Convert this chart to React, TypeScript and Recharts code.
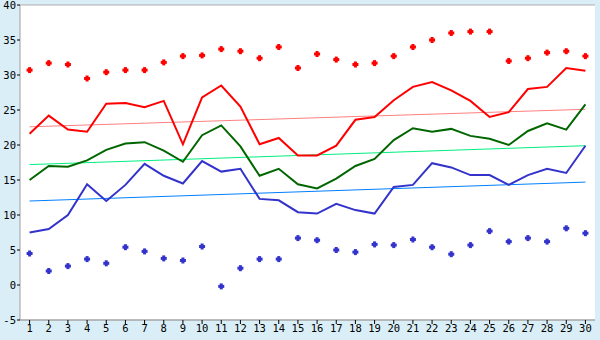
import { ComposedChart, Line, XAxis, YAxis, CartesianGrid } from 'recharts';

const days = ['1', '2', '3', '4', '5', '6', '7', '8', '9', '10', '11', '12', '13', '14', '15', '16', '17', '18', '19', '20', '21', '22', '23', '24', '25', '26', '27', '28', '29', '30'];

const highAvg = [21.6, 24.2, 22.2, 21.9, 25.9, 26.0, 25.4, 26.3, 20.1, 26.8, 28.5, 25.5, 20.1, 21.0, 18.5, 18.5, 19.9, 23.6, 24.0, 26.4, 28.3, 29.0, 27.8, 26.3, 24.0, 24.7, 28.0, 28.3, 31.0, 30.6];
const meanAvg = [15.0, 17.0, 16.9, 17.8, 19.3, 20.2, 20.4, 19.2, 17.6, 21.4, 22.8, 19.8, 15.6, 16.6, 14.4, 13.8, 15.2, 17.0, 18.0, 20.7, 22.4, 21.9, 22.3, 21.3, 20.9, 20.0, 22.0, 23.1, 22.2, 25.8];
const lowAvg = [7.5, 8.0, 10.0, 14.4, 12.0, 14.3, 17.3, 15.6, 14.5, 17.7, 16.2, 16.6, 12.3, 12.1, 10.4, 10.2, 11.6, 10.7, 10.2, 14.0, 14.3, 17.4, 16.8, 15.7, 15.7, 14.3, 15.7, 16.6, 16.0, 19.9];
const recordHigh = [30.7, 31.7, 31.5, 29.5, 30.4, 30.7, 30.7, 31.8, 32.7, 32.8, 33.7, 33.4, 32.4, 34.0, 31.0, 33.0, 32.2, 31.5, 31.7, 32.7, 34.0, 35.0, 36.0, 36.2, 36.2, 32.0, 32.4, 33.2, 33.4, 32.7];
const recordLow = [4.5, 2.0, 2.7, 3.7, 3.1, 5.4, 4.8, 3.8, 3.5, 5.5, -0.2, 2.4, 3.7, 3.7, 6.7, 6.4, 5.0, 4.7, 5.8, 5.7, 6.5, 5.4, 4.4, 5.7, 7.7, 6.2, 6.7, 6.2, 8.1, 7.4];

// trend line end points (first day, last day)
const highTrend = [22.6, 25.1];
const meanTrend = [17.2, 19.9];
const lowTrend = [12.0, 14.7];

const yTicks = [-5, 0, 5, 10, 15, 20, 25, 30, 35, 40];

const last = days.length - 1;
const data = days.map((day, i) => ({
  day,
  high: highAvg[i],
  mean: meanAvg[i],
  low: lowAvg[i],
  recHigh: recordHigh[i],
  recLow: recordLow[i],
  highT: i === 0 ? highTrend[0] : i === last ? highTrend[1] : null,
  meanT: i === 0 ? meanTrend[0] : i === last ? meanTrend[1] : null,
  lowT: i === 0 ? lowTrend[0] : i === last ? lowTrend[1] : null,
}));

function PlusDot(color: string) {
  return (props: any) => {
    const { cx, cy, index } = props;
    if (cx == null || cy == null) return <g key={index} />;
    return (
      <g key={index}>
        <rect x={cx - 1.5} y={cy - 3} width={3} height={6} fill={color} />
        <rect x={cx - 3} y={cy - 1.5} width={6} height={3} fill={color} />
      </g>
    );
  };
}

const tickStyle = { fill: '#000', fontSize: 10.5, fontFamily: 'DejaVu Sans Mono' };
// half a category slot on each side, so the days sit in the middle of their slots
const edgePad = 575 / days.length / 2;

export default function App() {
  return (
    <div style={{ position: 'absolute', left: 0, top: 0, width: 600, height: 340, background: '#d9eef6' }}>
      <ComposedChart width={600} height={340} data={data} margin={{ top: 5, right: 5, left: 0, bottom: 0 }}>
        <CartesianGrid vertical={false} stroke="#b0b0b0" fill="#ffffff" />
        <XAxis
          dataKey="day"
          height={20}
          padding={{ left: edgePad, right: edgePad }}
          tick={tickStyle}
          tickSize={4}
          tickMargin={1}
          interval={0}
          axisLine={{ stroke: '#a0a0a0' }}
          tickLine={{ stroke: '#000' }}
        />
        <YAxis
          yAxisId="l"
          width={20}
          domain={[-5, 40]}
          ticks={yTicks}
          tick={tickStyle}
          tickSize={3}
          tickMargin={1}
          axisLine={{ stroke: '#a0a0a0' }}
          tickLine={{ stroke: '#000' }}
        />
        <YAxis
          yAxisId="r"
          orientation="right"
          width={0}
          domain={[-5, 40]}
          tick={false}
          tickLine={false}
          axisLine={{ stroke: '#a0a0a0' }}
        />
        <Line yAxisId="l" dataKey="highT" stroke="#ff8080" strokeWidth={1} dot={false} connectNulls isAnimationActive={false} />
        <Line yAxisId="l" dataKey="meanT" stroke="#00f080" strokeWidth={1} dot={false} connectNulls isAnimationActive={false} />
        <Line yAxisId="l" dataKey="lowT" stroke="#0080ff" strokeWidth={1} dot={false} connectNulls isAnimationActive={false} />
        <Line yAxisId="l" dataKey="high" stroke="#ff0000" strokeWidth={2} dot={false} isAnimationActive={false} />
        <Line yAxisId="l" dataKey="mean" stroke="#006600" strokeWidth={2} dot={false} isAnimationActive={false} />
        <Line yAxisId="l" dataKey="low" stroke="#3333cc" strokeWidth={2} dot={false} isAnimationActive={false} />
        <Line yAxisId="l" dataKey="recHigh" stroke="none" dot={PlusDot('#ff0000')} activeDot={false} isAnimationActive={false} />
        <Line yAxisId="l" dataKey="recLow" stroke="none" dot={PlusDot('#3333cc')} activeDot={false} isAnimationActive={false} />
      </ComposedChart>
    </div>
  );
}
